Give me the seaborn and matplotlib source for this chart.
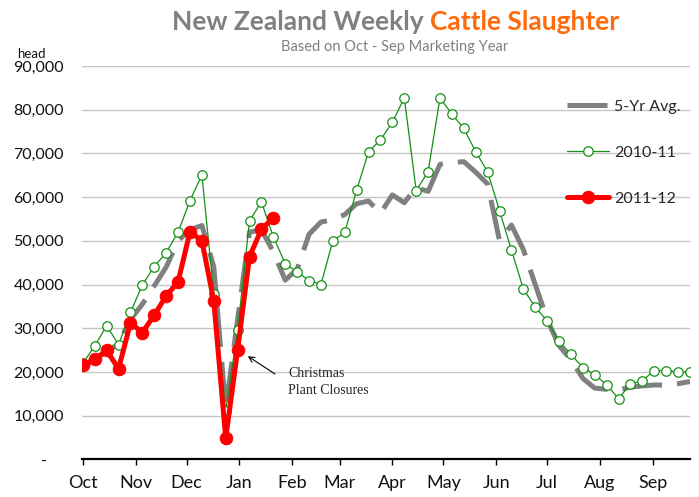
import numpy as np
import pandas as pd
import matplotlib
matplotlib.use('Agg')
import matplotlib.pyplot as plt
import seaborn as sns
from matplotlib.ticker import FuncFormatter

# weekly slaughter, head; week 0 = first week of October
avg_5yr = [20800, 23000, 24500, 26500, 32000, 35500, 39700, 44000, 50000, 52500,
           53500, 44000, 11500, 32000, 52000, 52500, 47500, 41000, 43500, 51500,
           54300, 54800, 56000, 58500, 59100, 56300, 60500, 58700, 62200, 61300,
           67500, 67900, 68100, 65700, 63000, 50000, 53600, 48000, 40000, 32000,
           26000, 22800, 18500, 16300, 16000, 15900, 16500, 16800, 17000, 17000,
           17300, 17800]
season_2010 = [22000, 25900, 30600, 26200, 33600, 39900, 44100, 47300, 52000, 59200,
               65100, 37800, 11100, 29600, 54600, 58900, 50900, 44800, 42900, 40900,
               40000, 50000, 51900, 61600, 70400, 73100, 77100, 82700, 61500, 65800,
               82700, 79000, 75700, 70400, 65800, 56900, 47900, 39000, 34800, 31700,
               27100, 24000, 21000, 19400, 17000, 13900, 17200, 18000, 20300, 20300,
               20000, 20000]
season_2011 = [21600, 22900, 24900, 20700, 31200, 29000, 33000, 37400, 40600, 52100,
               50000, 36200, 4800, 25000, 46400, 52600, 55300]

months = ['Oct', 'Nov', 'Dec', 'Jan', 'Feb', 'Mar', 'Apr', 'May', 'Jun', 'Jul', 'Aug', 'Sep']
month_start_day = [0, 31, 61, 92, 123, 151, 182, 212, 243, 273, 304, 335]

GREY = '#808080'
GREEN = '#148f14'
RED = '#ff0000'
ORANGE = '#ff6a0a'

sns.set_style('white')
plt.rcParams['font.family'] = ['Lato', 'DejaVu Sans']

days_avg = np.arange(len(avg_5yr)) * 7
days_2010 = np.arange(len(season_2010)) * 7
days_2011 = np.arange(len(season_2011)) * 7

fig = plt.figure(figsize=(6.99, 4.97), dpi=100)
ax = fig.add_axes([82 / 699, 1 - 459.3 / 497, (690 - 82) / 699, (459.3 - 66) / 497])

sns.lineplot(x=days_avg, y=avg_5yr, ax=ax, color=GREY, lw=3.6,
             linestyle=(0, (8, 3)), label='5-Yr Avg.', zorder=2)
sns.lineplot(x=days_2010, y=season_2010, ax=ax, color=GREEN, lw=0.9,
             marker='o', markersize=6.8, markerfacecolor='white',
             markeredgecolor=GREEN, markeredgewidth=0.9, label='2010-11', zorder=3)
sns.lineplot(x=days_2011, y=season_2011, ax=ax, color=RED, lw=3.6,
             marker='o', markersize=9, markerfacecolor=RED,
             markeredgecolor=RED, label='2011-12', zorder=4)

ax.set_xlim(-0.5, 357)
ax.set_ylim(0, 90000)
ax.set_yticks(np.arange(0, 90001, 10000))
ax.yaxis.set_major_formatter(FuncFormatter(lambda v, p: '-    ' if v == 0 else f'{v:,.0f}'))
ax.set_xticks(month_start_day)
ax.set_xticklabels(months)
ax.grid(axis='y', color='#c6c6c6', lw=1)
ax.set_axisbelow(True)
for s in ['top', 'right', 'left']:
    ax.spines[s].set_visible(False)
ax.spines['bottom'].set_color('black')
ax.spines['bottom'].set_linewidth(1.6)
ax.tick_params(axis='y', length=0, pad=13, labelsize=11.5, labelcolor='#111111')
ax.tick_params(axis='x', direction='out', length=4, width=1, color='black',
               pad=7, labelsize=13, labelcolor='#111111', bottom=True)
ax.set_xlabel('')
ax.set_ylabel('')

fig.text(31 / 699, 1 - 54 / 497, 'head', ha='center', va='center', fontsize=9.5, color='#111111')

ax.legend(loc='upper left', bbox_to_anchor=(553 / 699, 1 - 85 / 497),
          bbox_transform=fig.transFigure, frameon=False, fontsize=11.5,
          labelspacing=2.0, handlelength=2.6, handletextpad=0.35)

# Christmas note: arrow and text placed separately
ax.annotate('', xy=(97, 23600), xytext=(275 / 699, 1 - 374 / 497),
            textcoords='figure fraction',
            arrowprops=dict(arrowstyle='->', color='black', lw=0.8,
                            shrinkA=0, shrinkB=0))
fig.text(288 / 699, 1 - 382 / 497, 'Christmas\nPlant Closures', ha='left', va='center',
         fontsize=10, family='Liberation Serif', linespacing=1.45)

# two-colour title centred on the plot
renderer = fig.canvas.get_renderer()
t1 = fig.text(0, 1 - 30 / 497, 'New Zealand Weekly ', fontsize=19, fontweight='bold',
              color=GREY, ha='left', va='baseline')
t2 = fig.text(0, 1 - 30 / 497, 'Cattle Slaughter', fontsize=19, fontweight='bold',
              color=ORANGE, ha='left', va='baseline')
w1 = t1.get_window_extent(renderer).width
w2 = t2.get_window_extent(renderer).width
x0 = 396 - (w1 + w2) / 2
t1.set_x(x0 / 699)
t2.set_x((x0 + w1) / 699)
fig.text(395 / 699, 1 - 47 / 497, 'Based on Oct - Sep Marketing Year', ha='center',
         va='center', fontsize=10.5, color=GREY)

fig.savefig('out.png', dpi=100)
